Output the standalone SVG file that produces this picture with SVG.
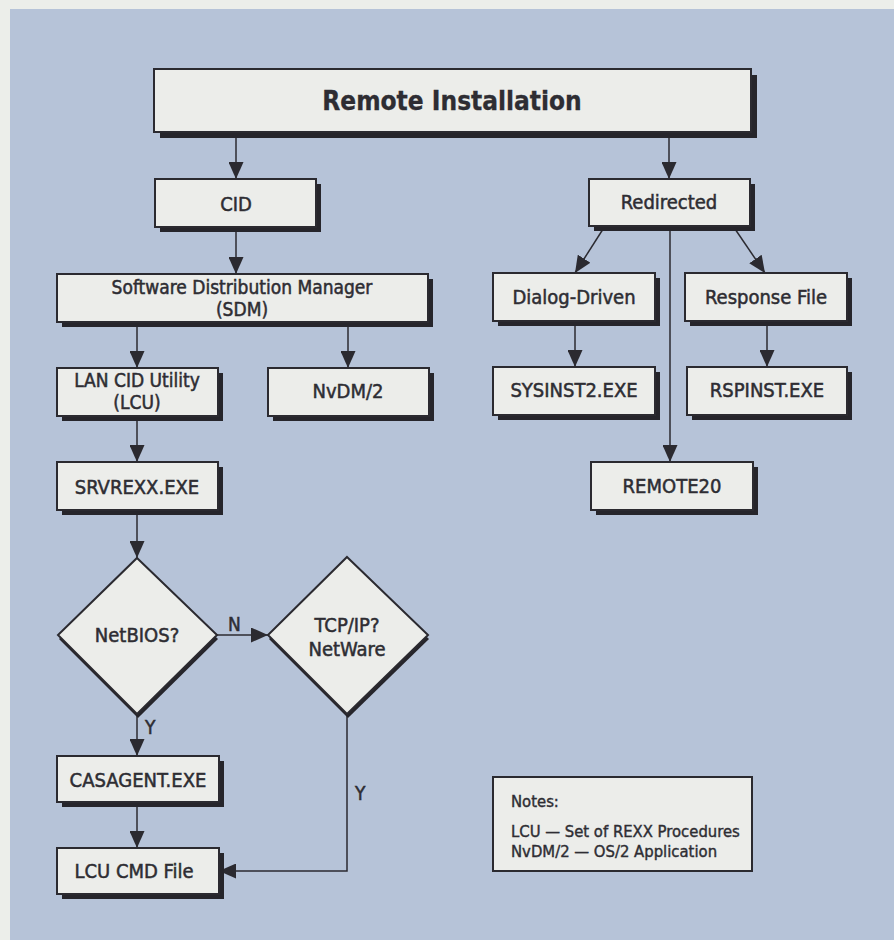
<svg xmlns="http://www.w3.org/2000/svg" width="894" height="940" viewBox="0 0 894 940">
  <style>
    .box { fill: #ecedea; stroke: #2b2a30; stroke-width: 2; }
    .shadow { fill: #26252b; }
    .lbl { font-family: "DejaVu Sans", "Liberation Sans", sans-serif; font-stretch: condensed; font-size: 20px; fill: #2e2d33; stroke: #2e2d33; stroke-width: 0.5; text-anchor: middle; }
    .two { font-size: 19px; }
    .title { font-size: 26px; font-weight: bold; stroke-width: 0.3; }
    .yn { font-family: "DejaVu Sans", "Liberation Sans", sans-serif; font-stretch: condensed; font-size: 19px; fill: #2e2d33; stroke: #2e2d33; stroke-width: 0.5; }
    .note { font-family: "DejaVu Sans", "Liberation Sans", sans-serif; font-stretch: condensed; font-size: 16.5px; fill: #2e2d33; stroke: #2e2d33; stroke-width: 0.4; }
    .wire { fill: none; stroke: #2b2a30; stroke-width: 1.5; }
  </style>
  <defs>
    <marker id="arrow" markerUnits="userSpaceOnUse" markerWidth="17" markerHeight="15" refX="17" refY="7.5" orient="auto">
      <path d="M0,0 L17,7.5 L0,15 z" fill="#2b2a30"/>
    </marker>
  </defs>

  <!-- page and panel -->
  <rect x="0" y="0" width="894" height="940" fill="#eceeea"/>
  <rect x="10" y="9" width="884" height="931" fill="#b6c3d8"/>

  <!-- connectors -->
  <g id="connectors" class="wire" marker-end="url(#arrow)">
    <line x1="236" y1="132" x2="236" y2="179"/>
    <line x1="669" y1="132" x2="669" y2="179"/>
    <line x1="236" y1="227" x2="236" y2="274"/>
    <line x1="137" y1="322" x2="137" y2="368"/>
    <line x1="348" y1="322" x2="348" y2="368"/>
    <line x1="137" y1="416" x2="137" y2="462"/>
    <line x1="137" y1="510" x2="137" y2="558"/>
    <line x1="217" y1="635" x2="268" y2="635"/>
    <line x1="137" y1="714" x2="137" y2="756"/>
    <line x1="137" y1="802" x2="137" y2="848"/>
    <polyline points="347,714 347,871 219,871"/>
    <line x1="605" y1="226" x2="575" y2="273"/>
    <line x1="733" y1="226" x2="765" y2="273"/>
    <line x1="670" y1="226" x2="670" y2="462"/>
    <line x1="575" y1="321" x2="575" y2="367"/>
    <line x1="767" y1="321" x2="767" y2="367"/>
  </g>

  <!-- connector labels -->
  <g id="connector-labels">
    <text class="yn" x="228" y="631">N</text>
    <text class="yn" x="145" y="734">Y</text>
    <text class="yn" x="355" y="800">Y</text>
  </g>

  <g id="remote-installation">
    <rect class="shadow" x="160" y="75" width="597" height="63"/>
    <rect class="box" x="154" y="69" width="597" height="63"/>
    <text class="lbl title" x="452" y="110">Remote Installation</text>
  </g>

  <g id="cid">
    <rect class="shadow" x="160" y="184" width="161" height="48"/>
    <rect class="box" x="155" y="179" width="161" height="48"/>
    <text class="lbl" x="236" y="211">CID</text>
  </g>

  <g id="redirected">
    <rect class="shadow" x="594" y="184" width="161" height="47"/>
    <rect class="box" x="589" y="179" width="161" height="47"/>
    <text class="lbl" x="669" y="209">Redirected</text>
  </g>

  <g id="sdm">
    <rect class="shadow" x="62" y="279" width="371" height="48"/>
    <rect class="box" x="57" y="274" width="371" height="48"/>
    <text class="lbl two" x="242" y="294">Software Distribution Manager</text>
    <text class="lbl two" x="242" y="316">(SDM)</text>
  </g>

  <g id="dialog-driven">
    <rect class="shadow" x="498" y="278" width="162" height="48"/>
    <rect class="box" x="493" y="273" width="162" height="48"/>
    <text class="lbl" x="574" y="304">Dialog-Driven</text>
  </g>

  <g id="response-file">
    <rect class="shadow" x="690" y="278" width="162" height="48"/>
    <rect class="box" x="685" y="273" width="162" height="48"/>
    <text class="lbl" x="766" y="304">Response File</text>
  </g>

  <g id="lcu">
    <rect class="shadow" x="62" y="373" width="161" height="48"/>
    <rect class="box" x="57" y="368" width="161" height="48"/>
    <text class="lbl two" x="137" y="387">LAN CID Utility</text>
    <text class="lbl two" x="137" y="409">(LCU)</text>
  </g>

  <g id="nvdm2">
    <rect class="shadow" x="273" y="373" width="161" height="48"/>
    <rect class="box" x="268" y="368" width="161" height="48"/>
    <text class="lbl" x="348" y="398">NvDM/2</text>
  </g>

  <g id="sysinst2">
    <rect class="shadow" x="498" y="372" width="162" height="48"/>
    <rect class="box" x="493" y="367" width="162" height="48"/>
    <text class="lbl" x="574" y="397">SYSINST2.EXE</text>
  </g>

  <g id="rspinst">
    <rect class="shadow" x="692" y="372" width="160" height="48"/>
    <rect class="box" x="687" y="367" width="160" height="48"/>
    <text class="lbl" x="767" y="397">RSPINST.EXE</text>
  </g>

  <g id="srvrexx">
    <rect class="shadow" x="62" y="467" width="161" height="48"/>
    <rect class="box" x="57" y="462" width="161" height="48"/>
    <text class="lbl" x="137" y="494">SRVREXX.EXE</text>
  </g>

  <g id="remote20">
    <rect class="shadow" x="596" y="467" width="162" height="48"/>
    <rect class="box" x="591" y="462" width="162" height="48"/>
    <text class="lbl" x="672" y="493">REMOTE20</text>
  </g>

  <g id="netbios">
    <polygon class="shadow" points="138,562 218,639 138,718 59,639"/>
    <polygon class="box" points="137,558 217,635 137,714 58,635"/>
    <text class="lbl" x="137" y="642">NetBIOS?</text>
  </g>

  <g id="tcpip-netware">
    <polygon class="shadow" points="348,561 429,639 348,718 269,639"/>
    <polygon class="box" points="347,557 428,635 347,714 268,635"/>
    <text class="lbl" x="347" y="632">TCP/IP?</text>
    <text class="lbl" x="347" y="656">NetWare</text>
  </g>

  <g id="casagent">
    <rect class="shadow" x="62" y="761" width="162" height="46"/>
    <rect class="box" x="57" y="756" width="162" height="46"/>
    <text class="lbl" x="138" y="787">CASAGENT.EXE</text>
  </g>

  <g id="lcu-cmd-file">
    <rect class="shadow" x="62" y="853" width="162" height="46"/>
    <rect class="box" x="57" y="848" width="162" height="46"/>
    <text class="lbl" x="134" y="878">LCU CMD File</text>
  </g>

  <g id="notes">
    <rect class="box" x="493" y="777" width="259" height="94"/>
    <text class="note" x="511" y="807">Notes:</text>
    <text class="note" x="511" y="837">LCU — Set of REXX Procedures</text>
    <text class="note" x="511" y="857">NvDM/2 — OS/2 Application</text>
  </g>
</svg>
